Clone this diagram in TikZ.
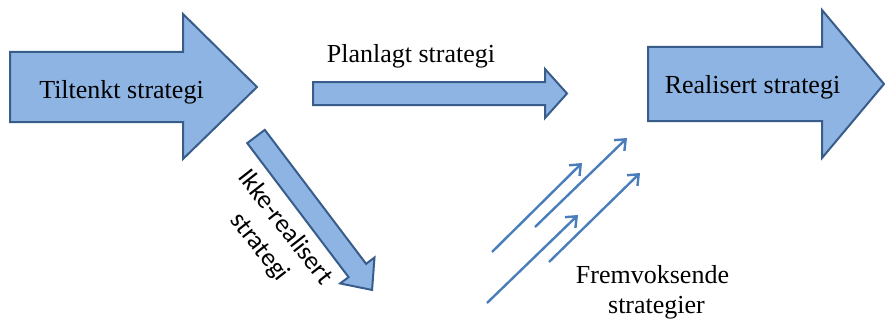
\documentclass[tikz,border=0pt]{standalone}
\usepackage{fontspec}
\setmainfont{Liberation Serif}
\newfontfamily\calib{Carlito}
\usetikzlibrary{arrows.meta}
\definecolor{blkfill}{HTML}{8EB4E3}
\definecolor{blkline}{HTML}{385D8A}
\definecolor{thinline}{HTML}{4A7EBB}
\tikzset{
  blockarrow/.style={fill=blkfill, draw=blkline, line width=2pt, line join=miter},
  thinarrow/.style={draw=thinline, line width=2.4pt, -{Straight Barb[length=9pt,width=15pt,line width=2.4pt]}},
  lbl/.style={font=\fontsize{26}{30}\selectfont, inner sep=0pt},
}
\begin{document}
\begin{tikzpicture}[x=1pt,y=1pt]
\useasboundingbox (0,0) rectangle (885,-321);
% Tiltenkt strategi
\draw[blockarrow] (10,-52) -- (183,-52) -- (183,-14) -- (257,-87) -- (183,-159) -- (183,-122) -- (10,-122) -- cycle;
\node[lbl, anchor=base] (tiltenkt) at (121.5,-98) {Tiltenkt strategi};
% Planlagt strategi
\draw[blockarrow] (313,-82) -- (545,-82) -- (545,-69) -- (567,-93.5) -- (545,-118) -- (545,-105) -- (313,-105) -- cycle;
\node[lbl, anchor=base] (planlagt) at (411,-63) {Planlagt strategi};
% Realisert strategi
\draw[blockarrow] (648,-47) -- (822,-47) -- (822,-10) -- (884,-84) -- (822,-158) -- (822,-121) -- (648,-121) -- cycle;
\node[lbl, anchor=base] (realisert) at (752.5,-93) {Realisert strategi};
% Ikke-realisert strategi (diagonal)
\begin{scope}[shift={(256,-136.5)}, rotate=-52.9]
\draw[blockarrow] (0,11) -- (168,11) -- (168,21.5) -- (192.4,0) -- (168,-21.5) -- (168,-11) -- (0,-11) -- cycle;
\end{scope}
\node[lbl, font=\calib\fontsize{26}{32}\selectfont, align=center, rotate=-52] (ikke) at (272,-237.5) {Ikke-realisert\\strategi};
% Emergent strategies
\coordinate (a1s) at (492,-252); \coordinate (a1e) at (582,-163);
\coordinate (a2s) at (535,-227); \coordinate (a2e) at (627,-138);
\coordinate (a3s) at (487,-303); \coordinate (a3e) at (578,-215);
\coordinate (a4s) at (549,-262); \coordinate (a4e) at (640,-173);
\draw[thinarrow] (a1s) -- (a1e);
\draw[thinarrow] (a2s) -- (a2e);
\draw[thinarrow] (a3s) -- (a3e);
\draw[thinarrow] (a4s) -- (a4e);
\node[lbl, anchor=base] (frem1) at (652.5,-283) {Fremvoksende};
\node[lbl, anchor=base] (frem2) at (656.5,-313) {strategier};
\end{tikzpicture}
\end{document}
